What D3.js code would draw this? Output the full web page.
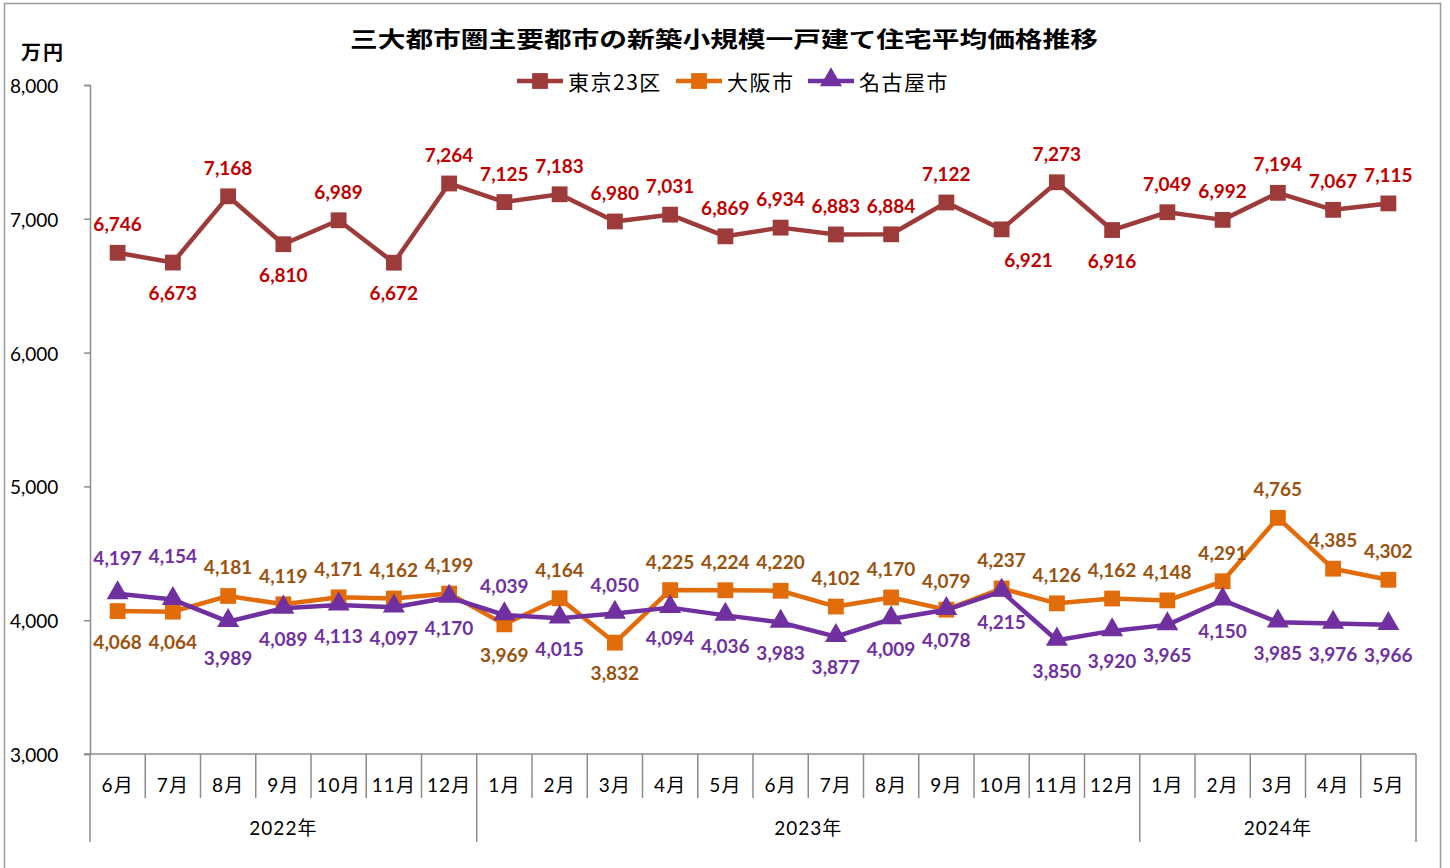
<!DOCTYPE html>
<html>
<head>
<meta charset="utf-8">
<script src="https://cdn.jsdelivr.net/npm/d3@7"></script>
<style>
  body { margin: 0; background: #fff; }
  text { font-family: Lato, "Noto Sans CJK JP", sans-serif; }
</style>
</head>
<body>
<script>
// months (category axis) and the year groups under them
let months = ["6月","7月","8月","9月","10月","11月","12月",
              "1月","2月","3月","4月","5月","6月","7月","8月","9月","10月","11月","12月",
              "1月","2月","3月","4月","5月"];
let years = ["2022年", "2023年", "2024年"];
let yearCounts = [7, 12, 5];

let tokyo = [6746, 6673, 7168, 6810, 6989, 6672, 7264, 7125, 7183, 6980, 7031, 6869,
             6934, 6883, 6884, 7122, 6921, 7273, 6916, 7049, 6992, 7194, 7067, 7115];
let osaka = [4068, 4064, 4181, 4119, 4171, 4162, 4199, 3969, 4164, 3832, 4225, 4224,
             4220, 4102, 4170, 4079, 4237, 4126, 4162, 4148, 4291, 4765, 4385, 4302];
let nagoya = [4197, 4154, 3989, 4089, 4113, 4097, 4170, 4039, 4015, 4050, 4094, 4036,
              3983, 3877, 4009, 4078, 4215, 3850, 3920, 3965, 4150, 3985, 3976, 3966];

let yTicks = [3000, 4000, 5000, 6000, 7000, 8000];

// which data labels sit below the point (index lists)
let tokyoBelow = [1, 3, 5, 16, 18];
let osakaBelow = [0, 1, 7, 9];
let nagoyaAbove = [0, 1, 7, 9];

let series = [
  { name: "東京23区", values: tokyo, color: "#9D3B3B", labelColor: "#C00000", marker: "square",
    below: i => tokyoBelow.includes(i) },
  { name: "大阪市", values: osaka, color: "#E36C0A", labelColor: "#9A520F", marker: "square",
    below: i => osakaBelow.includes(i) },
  { name: "名古屋市", values: nagoya, color: "#7030A0", labelColor: "#7030A0", marker: "triangle",
    below: i => !nagoyaAbove.includes(i) }
];

// hand nudges that the original chart had on a few labels
let nudge = { "0-16": [27, 0], "2-0": [0, -7], "2-1": [0, -15], "2-2": [0, 6] };

let W = 1450, H = 868;
let plotL = 90, plotR = 1416, plotT = 85, plotB = 754;

let svg = d3.select("body").append("svg")
    .attr("width", W)
    .attr("height", H);

// outer frame
svg.append("rect")
    .attr("x", 4.5).attr("y", 3.5)
    .attr("width", 1436).attr("height", 880)
    .attr("fill", "none")
    .attr("stroke", "#9a9a9a")
    .attr("stroke-width", 1.5);

let x = d3.scaleBand().domain(d3.range(months.length)).range([plotL, plotR]);
let y = d3.scaleLinear().domain([3000, 8000]).range([plotB, plotT]);

// title
svg.append("text")
    .attr("x", 350).attr("y", 37)
    .attr("dominant-baseline", "central")
    .attr("textLength", 748)
    .attr("lengthAdjust", "spacingAndGlyphs")
    .style("font-family", "'Noto Sans CJK JP'")
    .style("font-weight", "bold")
    .style("font-size", "22px")
    .attr("fill", "#000")
    .text("三大都市圏主要都市の新築小規模一戸建て住宅平均価格推移");

// unit
svg.append("text")
    .attr("x", 21).attr("y", 51)
    .attr("dominant-baseline", "central")
    .style("font-family", "'Noto Sans CJK JP'")
    .style("font-weight", "bold")
    .style("font-size", "20px")
    .style("letter-spacing", "2px")
    .text("万円");

// y axis
let yAxis = svg.append("g")
    .attr("transform", "translate(" + plotL + ",0)")
    .call(d3.axisLeft(y).tickValues(yTicks).tickSize(6).tickPadding(0).tickFormat(d3.format(",")));
yAxis.select(".domain").attr("stroke", "#8c8c8c").attr("stroke-width", 1.5);
yAxis.selectAll(".tick line").attr("stroke", "#8c8c8c").attr("stroke-width", 1.5);
yAxis.selectAll(".tick text")
    .attr("x", -80).attr("text-anchor", "start")
    .attr("dy", null).attr("dominant-baseline", "central")
    .style("font-size", "19px").style("font-family", "Lato").attr("fill", "#000");

// x axis line
svg.append("line")
    .attr("x1", plotL - 6).attr("x2", plotR)
    .attr("y1", plotB).attr("y2", plotB)
    .attr("stroke", "#8c8c8c").attr("stroke-width", 1.5);

// category separators
let yearStarts = [0];
yearCounts.forEach((c, i) => yearStarts.push(yearStarts[i] + c));
svg.append("g").selectAll("line")
    .data(d3.range(months.length + 1))
    .enter().append("line")
    .attr("x1", d => plotL + d * x.step())
    .attr("x2", d => plotL + d * x.step())
    .attr("y1", plotB)
    .attr("y2", d => yearStarts.includes(d) ? 842 : 798)
    .attr("stroke", "#8c8c8c").attr("stroke-width", 1.5);

svg.append("g").selectAll("text")
    .data(months)
    .enter().append("text")
    .attr("x", (d, i) => x(i) + x.bandwidth() / 2)
    .attr("y", 784)
    .attr("text-anchor", "middle")
    .attr("dominant-baseline", "central")
    .style("font-size", "19px")
    .style("letter-spacing", "1px")
    .text(d => d);

svg.append("g").selectAll("text")
    .data(years)
    .enter().append("text")
    .attr("x", (d, i) => plotL + (yearStarts[i] + yearCounts[i] / 2) * x.step())
    .attr("y", 827)
    .attr("text-anchor", "middle")
    .attr("dominant-baseline", "central")
    .style("font-size", "19px")
    .style("letter-spacing", "1px")
    .text(d => d);

// markers
let sqr = d3.symbol().type(d3.symbolSquare).size(250);
let tri = d3.symbol().type(d3.symbolTriangle).size(210);
function drawMarker(g, type, color) {
  g.append("path")
      .attr("d", type === "square" ? sqr() : tri())
      .attr("transform", type === "square" ? null : "translate(0,-1)")
      .attr("fill", color);
}

let line = d3.line()
    .x((d, i) => x(i) + x.bandwidth() / 2)
    .y(d => y(d));

series.forEach(s => {
  let g = svg.append("g");
  g.append("path")
      .attr("d", line(s.values))
      .attr("fill", "none")
      .attr("stroke", s.color)
      .attr("stroke-width", 4.5)
      .attr("stroke-linejoin", "round");
  s.values.forEach((v, i) => {
    let m = g.append("g").attr("transform", "translate(" + (x(i) + x.bandwidth() / 2) + "," + y(v) + ")");
    drawMarker(m, s.marker, s.color);
  });
});

// data labels
series.forEach((s, si) => {
  svg.append("g").selectAll("text")
      .data(s.values)
      .enter().append("text")
      .attr("x", (d, i) => x(i) + x.bandwidth() / 2 + (nudge[si + "-" + i] ? nudge[si + "-" + i][0] : 0))
      .attr("y", (d, i) => y(d) + (s.below(i) ? 30 : -29) + (nudge[si + "-" + i] ? nudge[si + "-" + i][1] : 0))
      .attr("text-anchor", "middle")
      .attr("dominant-baseline", "central")
      .style("font-size", "19px")
      .style("font-weight", "bold")
      .attr("fill", s.labelColor)
      .text(d => d3.format(",")(d));
});

// legend
let legendX = [517, 676, 808];
series.forEach((s, i) => {
  let g = svg.append("g").attr("transform", "translate(" + legendX[i] + ",81)");
  g.append("line")
      .attr("x1", 0).attr("x2", 46)
      .attr("stroke", s.color).attr("stroke-width", 4.5);
  let m = g.append("g").attr("transform", "translate(23,0)");
  drawMarker(m, s.marker, s.color);
  g.append("text")
      .attr("x", 51)
      .attr("dominant-baseline", "central")
      .style("font-family", "'Noto Sans CJK JP'")
      .style("font-size", "21px")
      .style("letter-spacing", "1.5px")
      .text(s.name);
});
</script>
</body>
</html>
